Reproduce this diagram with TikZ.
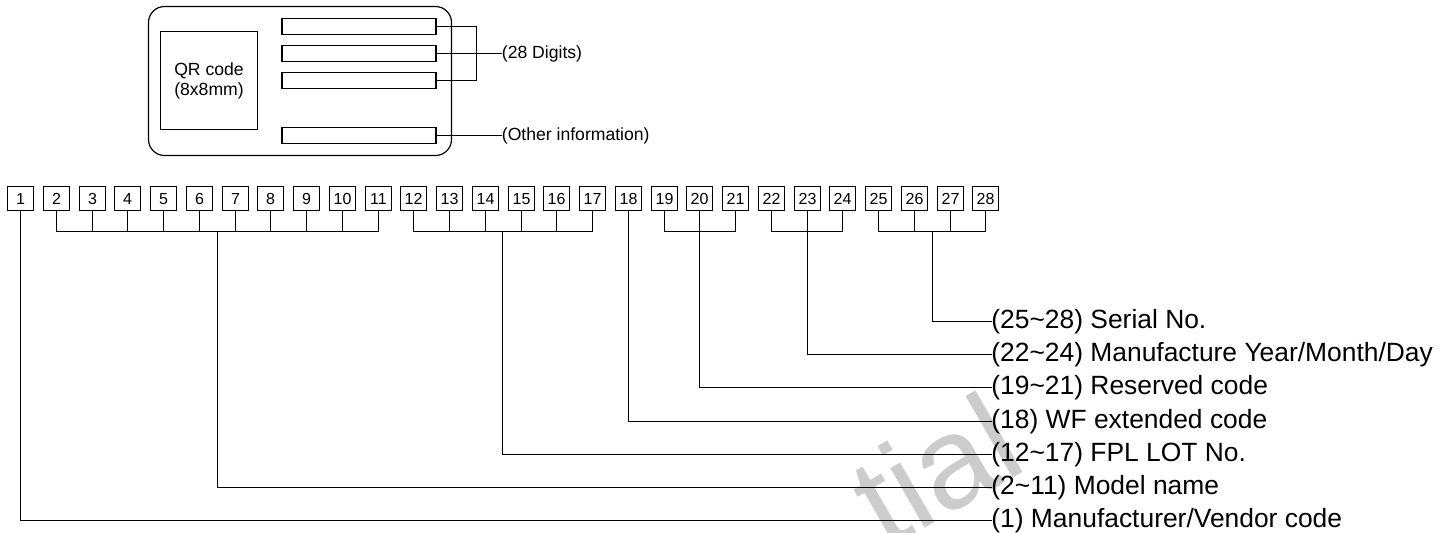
\documentclass[tikz,border=0pt]{standalone}
\usepackage{fontspec}
\setmainfont{Liberation Sans}
\begin{document}
\begin{tikzpicture}[x=0.5pt,y=-0.5pt,
  line cap=rect,
  digit/.style={draw, line width=0.5pt, minimum width=13pt, minimum height=12pt, inner sep=0pt, text height=5.75pt, text depth=0pt, font=\fontsize{8}{8}\selectfont},
  field/.style={draw, line width=0.55pt, minimum width=77pt, minimum height=8pt, inner sep=0pt},
  lab/.style={anchor=west, inner sep=0pt, font=\fontsize{13.2}{13.2}\selectfont},
  toplab/.style={anchor=west, inner sep=0pt, font=\fontsize{8.8}{8.8}\selectfont},
  conn/.style={draw, line width=0.55pt},
  wm/.style={text=black!20, inner sep=0pt, font=\fontsize{65}{65}\selectfont}
]
\useasboundingbox (0,0) rectangle (1439,532);
\begin{scope}
\clip (0,0) rectangle (1439,532);
\node[wm, rotate=30, anchor=base west] (wmk) at (886,551) {tial};
\end{scope}
% label card
\draw[line width=0.6pt, rounded corners=8pt] (148.5,6.5) rectangle (451.5,155.5);
\node[draw, line width=0.55pt, minimum width=48.5pt, minimum height=49pt, inner sep=0pt,
      align=center, font=\fontsize{8.8}{10}\selectfont] (qr) at (209,80.5) {QR code\\(8x8mm)};
\node[field] (f1) at (359,26.5) {};
\node[field] (f2) at (359,53.5) {};
\node[field] (f3) at (359,80.5) {};
\node[field] (f4) at (359,135.5) {};
\node[toplab] (dig) at (501.5,53.5) {(28 Digits)};
\node[toplab] (oth) at (501.5,135.5) {(Other information)};
\coordinate (bk1) at (476.5,26.5);
\coordinate (bk3) at (476.5,80.5);
\draw[conn] (f1.east) -- (bk1) -- (bk3) -- (f3.east);
\draw[conn] (f2.east) -- (dig.west);
\draw[conn] (f4.east) -- (oth.west);
% digit boxes
\foreach \i in {1,...,28} {
  \pgfmathsetmacro{\cx}{round(20+(\i-1)*35.75)+0.5}
  \node[digit] (d\i) at (\cx,198.5) {\i};
}
% labels
\node[lab] (l25) at (991,321.5) {(25\textasciitilde 28) Serial No.};
\node[lab] (l22) at (991,354.5) {(22\textasciitilde 24) Manufacture Year/Month/Day};
\node[lab] (l19) at (991,387.5) {(19\textasciitilde 21) Reserved code};
\node[lab] (l18) at (991,421.5) {(18) WF extended code};
\node[lab] (l12) at (991,454.5) {(12\textasciitilde 17) FPL LOT No.};
\node[lab] (l2) at (991,487.5) {(2\textasciitilde 11) Model name};
\node[lab] (l1) at (991,520.5) {(1) Manufacturer/Vendor code};
% brackets
\def\bky{231.5}
\foreach \a/\b in {2/11,12/17,19/21,22/24,25/28} {
  \draw[conn] (d\a.south) -- (d\a.south |- 0,\bky) -- (d\b.south |- 0,\bky) -- (d\b.south);
  \pgfmathtruncatemacro{\n}{\a+1}
  \pgfmathtruncatemacro{\m}{\b-1}
  \ifnum\n>\m\relax\else
  \foreach \k in {\n,...,\m} { \draw[conn] (d\k.south) -- (d\k.south |- 0,\bky); }
  \fi
}
% group stems
\coordinate (g2) at (217.5,\bky);
\coordinate (g12) at (502.5,\bky);
\coordinate (g19) at (d20.south |- 0,\bky);
\coordinate (g22) at (d23.south |- 0,\bky);
\coordinate (g25) at (932.5,\bky);
\draw[conn] (d1.south) |- (l1.west);
\draw[conn] (g2) |- (l2.west);
\draw[conn] (g12) |- (l12.west);
\draw[conn] (d18.south) |- (l18.west);
\draw[conn] (g19) |- (l19.west);
\draw[conn] (g22) |- (l22.west);
\draw[conn] (g25) |- (l25.west);
\end{tikzpicture}
\end{document}
